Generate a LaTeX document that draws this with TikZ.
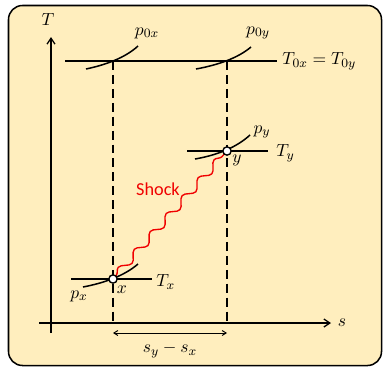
\documentclass[tikz,border=0pt]{standalone}
\usepackage{fontspec}
\newfontfamily\carlito{Carlito}
\usetikzlibrary{arrows.meta,decorations.pathmorphing,calc}
\definecolor{bgyellow}{RGB}{255,238,190}
\definecolor{shockred}{RGB}{240,0,0}
\begin{document}
\begin{tikzpicture}[x=0.625pt,y=-0.625pt,
  frame/.style={draw=black,line width=0.95pt,fill=bgyellow,rounded corners=8.75pt},
  ln/.style={line width=0.95pt},
  axis/.style={line width=0.95pt,-{Straight Barb[length=3.75pt,width=5pt,line width=0.8pt]}},
  dashline/.style={line width=0.95pt,dash pattern=on 5.6pt off 3.1pt},
  lab/.style={font=\fontsize{10.95}{13}\selectfont,inner sep=0pt},
  shocklab/.style={font=\carlito\fontsize{11.4}{13}\selectfont,text=shockred,inner sep=0pt},
  shock/.style={draw=shockred,line width=0.85pt,decorate,decoration={snake,segment length=15pt,amplitude=2.4pt,pre length=3pt,post length=2pt}},
  pt/.style={circle,draw=black,fill=white,line width=0.85pt,minimum size=5.2pt,inner sep=0pt},
  dim/.style={line width=0.6pt,{Straight Barb[length=2.5pt,width=3.1pt]}-{Straight Barb[length=2.5pt,width=3.1pt]}},
  isobar/.style={line width=0.95pt}
]
\useasboundingbox (0,0) rectangle (384,367);
\draw[frame] (8.5,5.5) rectangle (381.5,365.5);

% coordinates
\coordinate (Ttop) at (51,37);
\coordinate (Tbot) at (51,333);
\coordinate (sl) at (39,323);
\coordinate (sr) at (331,323);
\coordinate (toL) at (65,61);
\coordinate (toR) at (277,61);
\coordinate (c0x) at (113,61);
\coordinate (c0y) at (227,61);
\coordinate (dxb) at (113,321);
\coordinate (dyb) at (227,321);
\coordinate (cx) at (113,279);
\coordinate (cy) at (227,151);
\coordinate (tyL) at (187,151);
\coordinate (tyR) at (268,151);
\coordinate (txL) at (71,279);
\coordinate (txR) at (152,279);
\coordinate (ds1) at (113,333);
\coordinate (ds2) at (227,333);

% axes
\draw[axis] (Tbot) -- (Ttop);
\draw[axis] (sl) -- (sr);

% stagnation temperature line
\draw[ln] (toL) -- (toR);

% dashed verticals
\draw[dashline] (c0x) -- (dxb);
\draw[dashline] (c0y) -- (dyb);

% isobars
\draw[isobar] ($(c0x)+(-27,8)$) .. controls ($(c0x)+(-8,4)$) and ($(c0x)+(12,-3)$) .. ($(c0x)+(25,-15)$);
\draw[isobar] ($(c0y)+(-31,8)$) .. controls ($(c0y)+(-9,4)$) and ($(c0y)+(11,-3)$) .. ($(c0y)+(24,-14)$);
\draw[isobar] ($(cy)+(-32,8)$) .. controls ($(cy)+(-9,4)$) and ($(cy)+(10,-4)$) .. ($(cy)+(23,-16)$);
\draw[isobar] ($(cx)+(-30,8)$) .. controls ($(cx)+(-9,4)$) and ($(cx)+(11,-3)$) .. ($(cx)+(25,-15)$);

% isotherms
\draw[ln] (tyL) -- (tyR);
\draw[ln] (txL) -- (txR);

% shock
\draw[shock] (cx) -- (cy);

% dimension
\draw[dim] (ds1) -- (ds2);

% points
\node[pt] (X) at (cx) {};
\node[pt] (Y) at (cy) {};

% labels
\node[lab] (Tlab) at (48,20) {$T$};
\node[lab] (slab) at (342,323) {$s$};
\node[lab,anchor=west] (T0lab) at (282,61) {$T_{0x}=T_{0y}$};
\node[lab] (p0xlab) at (147,33) {$p_{0x}$};
\node[lab] (p0ylab) at (258,33) {$p_{0y}$};
\node[lab] (pylab) at (262,132) {$p_y$};
\node[lab,anchor=west] (Tylab) at (276,153) {$T_y$};
\node[lab] (ylab) at (237,160) {$y$};
\node[lab,anchor=west] (Txlab) at (156,282) {$T_x$};
\node[lab] (pxlab) at (79,296) {$p_x$};
\node[lab] (xlab) at (122,290) {$x$};
\node[shocklab] (shocklab) at (158,189) {Shock};
\node[lab] (dslab) at (170,350) {$s_y - s_x$};
\end{tikzpicture}
\end{document}
